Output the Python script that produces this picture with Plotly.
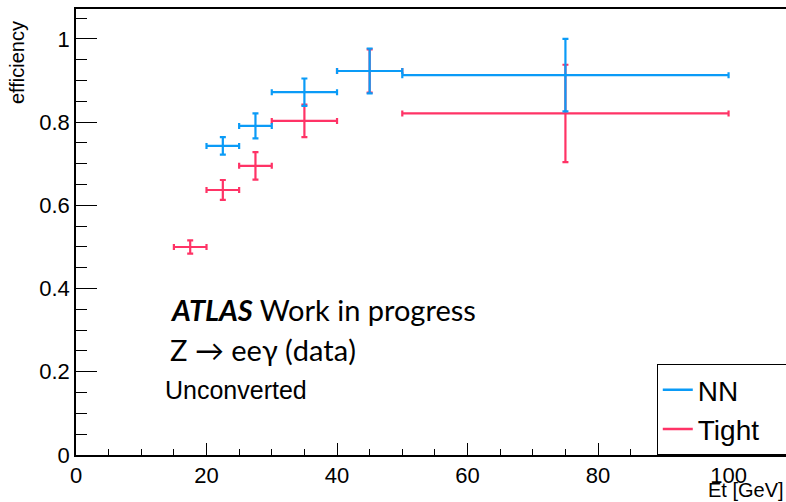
import plotly.graph_objects as go

# Bin centres and half-widths (Et [GeV])
tight_x = [17.5, 22.5, 27.5, 35.0, 45.0, 75.0]
tight_xerr = [2.5, 2.5, 2.5, 5.0, 5.0, 25.0]
tight_eff = [0.500, 0.637, 0.695, 0.803, 0.923, 0.821]
tight_err = [0.016, 0.024, 0.033, 0.039, 0.052, 0.117]

nn_x = [22.5, 27.5, 35.0, 45.0, 75.0]
nn_xerr = [2.5, 2.5, 5.0, 5.0, 25.0]
nn_eff = [0.743, 0.791, 0.872, 0.923, 0.913]
nn_err = [0.021, 0.030, 0.033, 0.054, 0.087]

legend_names = ["NN", "Tight"]

BLUE = "#0a9bf7"
RED = "#ff3366"
AX_FONT = "Liberation Sans, Arial, sans-serif"
TXT_FONT = "Lato, sans-serif"

fig = go.Figure()

def add_series(x, xerr, y, yerr, color, name):
    fig.add_trace(go.Scatter(
        x=x, y=y, mode="markers", name=name, showlegend=False,
        marker=dict(size=2, color=color),
        error_x=dict(type="data", array=xerr, color=color, thickness=2.2, width=3),
        error_y=dict(type="data", array=yerr, color=color, thickness=2.2, width=3),
    ))

add_series(tight_x, tight_xerr, tight_eff, tight_err, RED, "Tight")
add_series(nn_x, nn_xerr, nn_eff, nn_err, BLUE, "NN")

# legend-only entries (padding makes the box reach the right edge as in the original)
PAD = "\u00a0" * 3
for name, color in zip(legend_names, [BLUE, RED]):
    fig.add_trace(go.Scatter(x=[None], y=[None], mode="lines", name=name + PAD,
                             line=dict(color=color, width=2.5)))

fig.update_layout(
    width=786, height=502,
    margin=dict(l=76, r=0, t=9, b=47, autoexpand=False),
    paper_bgcolor="white", plot_bgcolor="white",
    font=dict(family=AX_FONT, color="black"),
    xaxis=dict(range=[0, 108.8], tickvals=[0, 20, 40, 60, 80, 100],
               ticks="inside", ticklen=12, tickwidth=1.2, tickcolor="black",
               minor=dict(dtick=5, ticks="inside", ticklen=6, tickcolor="black", tickwidth=1),
               showline=True, linecolor="black", linewidth=1.5, mirror=True,
               showgrid=False, zeroline=False, automargin=False,
               tickfont=dict(size=22, family=AX_FONT)),
    yaxis=dict(range=[0, 1.072], tickvals=[0, 0.2, 0.4, 0.6, 0.8, 1.0],
               ticktext=["0", "0.2", "0.4", "0.6", "0.8", "1"],
               ticks="inside", ticklen=21, tickwidth=1.2, tickcolor="black",
               minor=dict(dtick=0.05, ticks="inside", ticklen=11, tickcolor="black", tickwidth=1),
               showline=True, linecolor="black", linewidth=1.5, mirror=False,
               showgrid=False, zeroline=False, automargin=False,
               tickfont=dict(size=22, family=AX_FONT)),
    legend=dict(x=0.818, y=0.0, xanchor="left", yanchor="bottom",
                bgcolor="white", bordercolor="black", borderwidth=1,
                font=dict(size=28, family=AX_FONT), tracegroupgap=0,
                itemwidth=30),
)

fig.add_annotation(text="efficiency", xref="paper", yref="paper",
                   x=-0.082, y=0.978, xanchor="center", yanchor="top",
                   textangle=-90, showarrow=False,
                   font=dict(size=20, family=AX_FONT))
fig.add_annotation(text="Et [GeV]", xref="paper", yref="paper",
                   x=1.0, y=-0.078, xanchor="right", yanchor="middle",
                   showarrow=False, font=dict(size=20, family=AX_FONT))

fig.add_annotation(text="<b><i>ATLAS</i></b> Work in progress", xref="paper", yref="paper",
                   x=0.130, y=0.3256, xanchor="left", yanchor="middle",
                   showarrow=False, font=dict(size=29, family=TXT_FONT))
fig.add_annotation(text="Z → eeγ (data)", xref="paper", yref="paper",
                   x=0.130, y=0.236, xanchor="left", yanchor="middle",
                   showarrow=False, font=dict(size=29, family=TXT_FONT))
fig.add_annotation(text="Unconverted", xref="paper", yref="paper",
                   x=0.122, y=0.1464, xanchor="left", yanchor="middle",
                   showarrow=False, font=dict(size=25, family=AX_FONT))

fig.write_html("out.html")
